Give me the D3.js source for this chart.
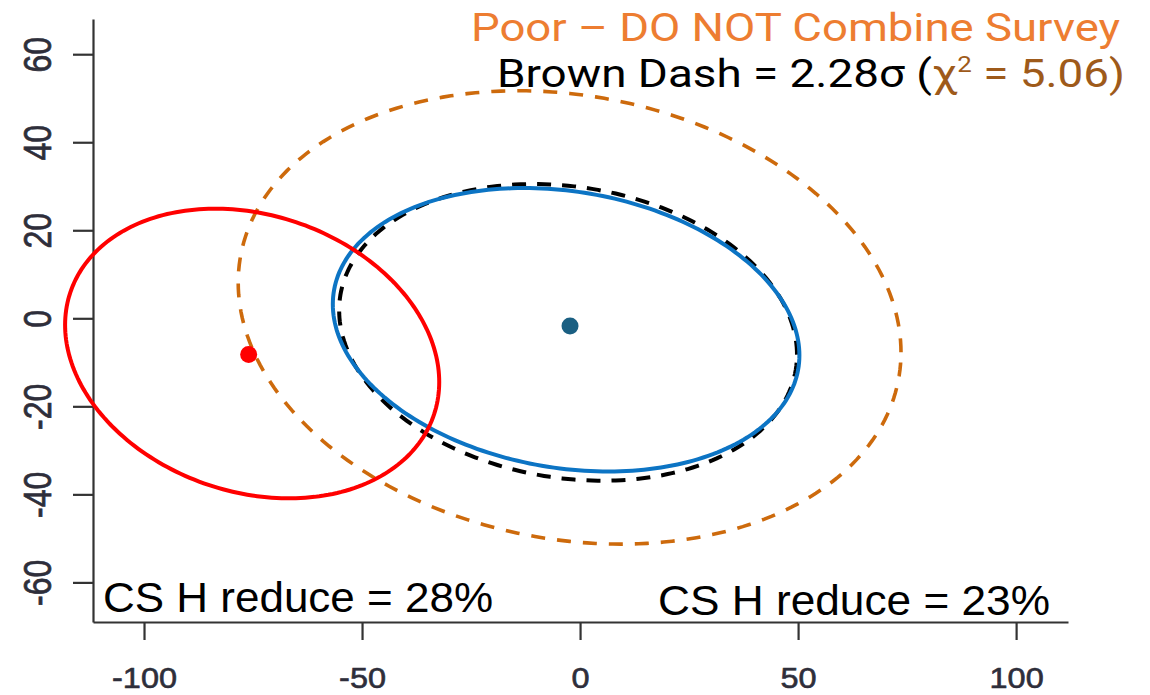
<!DOCTYPE html>
<html>
<head>
<meta charset="utf-8">
<script src="https://cdn.jsdelivr.net/npm/d3@7"></script>
<style>
  html, body { margin: 0; padding: 0; background: #fff; }
  svg { display: block; }
</style>
</head>
<body>
<svg id="chart" width="1150" height="695"></svg>
<script>
// ---------------- DATA ----------------
const xTicks = [-100, -50, 0, 50, 100];
const yTicks = [-60, -40, -20, 0, 20, 40, 60];

// confidence ellipses (centre, half-extent in x / y, correlation)
const ellipseNames = ["brownDash", "blackDash", "blue", "red"];
const ellipseCX  = [-2.4, -2.75, -3.2, -75.2];
const ellipseCY  = [0.2, -3.2, -2.6, -8.0];
const ellipseSX  = [76.0, 52.5, 53.5, 42.9];
const ellipseSY  = [51.5, 33.7, 32.2, 32.9];
const ellipseRho = [-0.154, -0.15, -0.18, -0.197];

// survey means
const pointNames = ["red", "blue"];
const pointX = [-76.0, -2.3];
const pointY = [-8.2, -1.75];

const titleLine1 = "Poor \u2013 DO NOT Combine Survey";
const titleLine2a = "Brown Dash = 2.28\u03C3 (";
const titleLine2b = "\u03C7";
const titleLine2sup = "2";
const titleLine2c = " = 5.06)";
const labelLeft = "CS H reduce = 28%";
const labelRight = "CS H reduce = 23%";

// ---------------- STYLES ----------------
const ellipseStyle = {
  brownDash: { stroke: "#CD6A0C", width: 3.6, dash: "14 12" },
  blackDash: { stroke: "#000000", width: 4, dash: "14 11" },
  blue:      { stroke: "#0C74C4", width: 4, dash: null },
  red:       { stroke: "#FF0000", width: 4, dash: null }
};
const pointColor = { red: "#FF0000", blue: "#1A5F82" };

// ---------------- CHART ----------------
const svg = d3.select("#chart");
const x = d3.scaleLinear().domain([-111.7, 111.9]).range([93, 1068]);
const y = d3.scaleLinear().domain([-69, 68]).range([622, 19]);

// axes
const fmt = d => String(d);
const xAxis = d3.axisBottom(x).tickValues(xTicks).tickSizeInner(18).tickSizeOuter(0).tickFormat(fmt);
const yAxis = d3.axisLeft(y).tickValues(yTicks).tickSizeInner(20).tickSizeOuter(0).tickFormat(fmt);

const gx = svg.append("g").attr("transform", "translate(0,622)").call(xAxis);
const gy = svg.append("g").attr("transform", "translate(93,0)").call(yAxis);

[gx, gy].forEach(g => {
  g.select(".domain").attr("stroke", "#333").attr("stroke-width", 2.2);
  g.selectAll(".tick line").attr("stroke", "#333").attr("stroke-width", 2.2);
});
gx.selectAll(".tick text")
  .attr("fill", "#2e2e3a")
  .attr("stroke", "#2e2e3a").attr("stroke-width", 0.6)
  .attr("font-family", "Liberation Sans, Arial, sans-serif")
  .attr("font-size", 29)
  .attr("y", 0).attr("dy", 0)
  .attr("text-anchor", "middle")
  .attr("transform", "translate(0,66) scale(1.12,1)");
gy.selectAll(".tick text")
  .attr("fill", "#2e2e3a")
  .attr("stroke", "#2e2e3a").attr("stroke-width", 0.6)
  .attr("font-family", "Liberation Sans, Arial, sans-serif")
  .attr("font-size", 32)
  .attr("x", 0).attr("dy", 0)
  .attr("text-anchor", "middle")
  .attr("transform", "translate(-42,0) rotate(-90) scale(1,1.22)");

// ellipses
const N = 240;
const tAngles = d3.range(N + 1).map(i => (i / N) * 2 * Math.PI);
const line = d3.line().x(p => x(p[0])).y(p => y(p[1]));

ellipseNames.forEach((name, i) => {
  const cx = ellipseCX[i], cy = ellipseCY[i], sx = ellipseSX[i], sy = ellipseSY[i], r = ellipseRho[i];
  const pts = tAngles.map(t => [cx + sx * Math.cos(t), cy + sy * (r * Math.cos(t) + Math.sqrt(1 - r * r) * Math.sin(t))]);
  const st = ellipseStyle[name];
  svg.append("path")
    .attr("d", line(pts))
    .attr("fill", "none")
    .attr("stroke", st.stroke)
    .attr("stroke-width", st.width)
    .attr("stroke-dasharray", st.dash);
});

// points
pointNames.forEach((name, i) => {
  svg.append("circle")
    .attr("cx", x(pointX[i])).attr("cy", y(pointY[i]))
    .attr("r", 8.5)
    .attr("fill", pointColor[name]);
});

// texts
const titleFont = "Roboto, 'Noto Sans', sans-serif";
svg.append("text")
  .attr("x", 471).attr("y", 41)
  .attr("font-family", titleFont).attr("font-size", 39)
  .attr("fill", "#ED7D31")
  .attr("textLength", 649).attr("lengthAdjust", "spacingAndGlyphs")
  .text(titleLine1);

const t2 = svg.append("text")
  .attr("x", 497).attr("y", 87)
  .attr("font-family", titleFont).attr("font-size", 39)
  .attr("fill", "#000")
  .attr("textLength", 628).attr("lengthAdjust", "spacingAndGlyphs");
t2.append("tspan").text(titleLine2a);
t2.append("tspan").attr("fill", "#9E5A1A").text(titleLine2b);
t2.append("tspan").attr("fill", "#9E5A1A").attr("font-size", 22).attr("dy", -15).text(titleLine2sup);
t2.append("tspan").attr("fill", "#9E5A1A").attr("dy", 15).text(titleLine2c);

const labelFont = "'Liberation Sans', Arial, sans-serif";
svg.append("text")
  .attr("x", 103).attr("y", 612)
  .attr("font-family", labelFont).attr("font-size", 43)
  .attr("fill", "#000")
  .attr("textLength", 390).attr("lengthAdjust", "spacingAndGlyphs")
  .text(labelLeft);
svg.append("text")
  .attr("x", 658).attr("y", 615)
  .attr("font-family", labelFont).attr("font-size", 43)
  .attr("fill", "#000")
  .attr("textLength", 392).attr("lengthAdjust", "spacingAndGlyphs")
  .text(labelRight);
</script>
</body>
</html>
